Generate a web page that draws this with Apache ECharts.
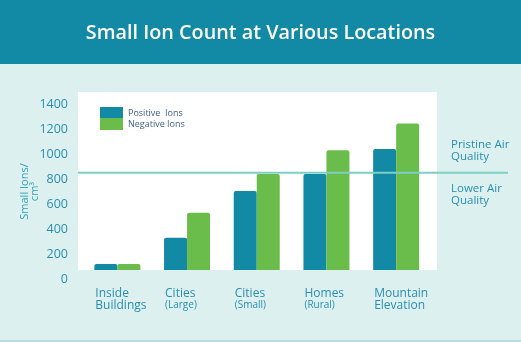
<!DOCTYPE html>
<html>
<head>
<meta charset="utf-8">
<script src="https://cdn.jsdelivr.net/npm/echarts@6/dist/echarts.min.js"></script>
<style>
  html, body { margin: 0; padding: 0; background: #dcf1ef; }
  #chart { width: 521px; height: 342px; }
</style>
</head>
<body>
<div id="chart"></div>
<script>
// Locations (first line, second line) and ion counts per cm³
const categories = ['Inside Buildings', 'Cities (Large)', 'Cities (Small)', 'Homes (Rural)', 'Mountain Elevation'];
const labelLines = [['Inside', 'Buildings', 'a'], ['Cities', '(Large)', 'b'], ['Cities', '(Small)', 'b'], ['Homes', '(Rural)', 'b'], ['Mountain', 'Elevation', 'a']];
const positiveIons = [120, 330, 705, 840, 1040];
const negativeIons = [120, 530, 840, 1030, 1245];
const yTicks = [0, 1400, 200];          // min, max, step
const airQualityThreshold = 850;

const TEAL = '#1289a5';
const GREEN = '#6bbd4b';
const TEXT = '#2a8db0';
const FONT = 'Open Sans';

const chart = echarts.init(document.getElementById('chart'), null, { renderer: 'canvas' });

chart.setOption({
  backgroundColor: '#dcf1ef',
  animation: false,
  textStyle: { fontFamily: FONT },
  title: {
    text: 'Small Ion Count at Various Locations',
    left: 'center',
    top: 18,
    textStyle: { color: '#ffffff', fontSize: 19.8, fontWeight: 600, fontFamily: FONT }
  },
  graphic: [
    { type: 'rect', z: -10, shape: { x: 0, y: 0, width: 521, height: 64 }, style: { fill: TEAL } },
    { type: 'rect', z: -10, shape: { x: 78, y: 92, width: 359, height: 178 }, style: { fill: '#ffffff' } },
    { type: 'rect', z: -10, shape: { x: 0, y: 340, width: 521, height: 2 }, style: { fill: '#b8dce4' } },
    { type: 'text', left: 451, top: 139, style: { text: 'Pristine Air\nQuality', fill: TEXT, font: '11.5px "Open Sans"', lineHeight: 11.5 } },
    { type: 'text', left: 451, top: 183, style: { text: 'Lower Air\nQuality', fill: TEXT, font: '11.5px "Open Sans"', lineHeight: 11.5 } }
  ],
  legend: {
    data: ['Positive  Ions', 'Negative Ions'],
    orient: 'vertical',
    left: 100,
    top: 107,
    padding: 0,
    itemWidth: 23,
    itemHeight: 12,
    itemGap: -1,
    icon: 'rect',
    selectedMode: false,
    textStyle: { color: '#3d5f8c', fontSize: 9, lineHeight: 12, fontFamily: FONT }
  },
  grid: [
    // scale grid: value axis labels and the air-quality threshold
    { left: 78, right: 13, top: 104, bottom: 63 },
    // bar grid: white plot area floor sits just above the zero label
    { left: 82.5, right: 90, top: 104, bottom: 72 }
  ],
  xAxis: [
    { gridIndex: 0, type: 'value', min: 0, max: 1, show: false },
    {
      gridIndex: 1,
      type: 'category',
      data: categories,
      axisLine: { show: false },
      axisTick: { show: false },
      axisLabel: {
        margin: 18,
        interval: 0,
        formatter: (v, i) => {
          const l = labelLines[i];
          return '{a|' + l[0] + '}\n{' + l[2] + '|' + l[1] + '}';
        },
        rich: {
          a: { color: TEXT, fontSize: 12, lineHeight: 11.5, width: 44, align: 'left', fontFamily: FONT },
          b: { color: TEXT, fontSize: 10, lineHeight: 11.5, width: 44, align: 'left', fontFamily: FONT }
        }
      }
    }
  ],
  yAxis: [
    {
      gridIndex: 0,
      type: 'value',
      min: yTicks[0],
      max: yTicks[1],
      interval: yTicks[2],
      name: 'Small Ions/\ncm³',
      nameLocation: 'middle',
      nameRotate: 90,
      nameGap: 38,
      nameMoveOverlap: false,
      nameTextStyle: { color: '#35a2b8', fontSize: 11, lineHeight: 10, fontFamily: FONT },
      axisLine: { show: false },
      axisTick: { show: false },
      splitLine: { show: false },
      axisLabel: { color: TEXT, fontSize: 12.5, margin: 10, fontFamily: FONT, formatter: (v) => String(v) }
    },
    { gridIndex: 1, type: 'value', min: 72, max: yTicks[1], show: false }
  ],
  series: [
    {
      name: 'Positive  Ions',
      type: 'bar',
      xAxisIndex: 1,
      yAxisIndex: 1,
      data: positiveIons,
      barWidth: 23,
      barGap: '0%',
      itemStyle: { color: TEAL, borderRadius: [2, 2, 0, 0] }
    },
    {
      name: 'Negative Ions',
      type: 'bar',
      xAxisIndex: 1,
      yAxisIndex: 1,
      data: negativeIons,
      barWidth: 23,
      barGap: '0%',
      itemStyle: { color: GREEN, borderRadius: [2, 2, 0, 0] }
    },
    {
      name: 'threshold',
      type: 'line',
      xAxisIndex: 0,
      yAxisIndex: 0,
      data: [[0, airQualityThreshold], [1, airQualityThreshold]],
      symbol: 'none',
      silent: true,
      z: 5,
      lineStyle: { color: '#7ccfc4', width: 2 }
    }
  ]
});
</script>
</body>
</html>
